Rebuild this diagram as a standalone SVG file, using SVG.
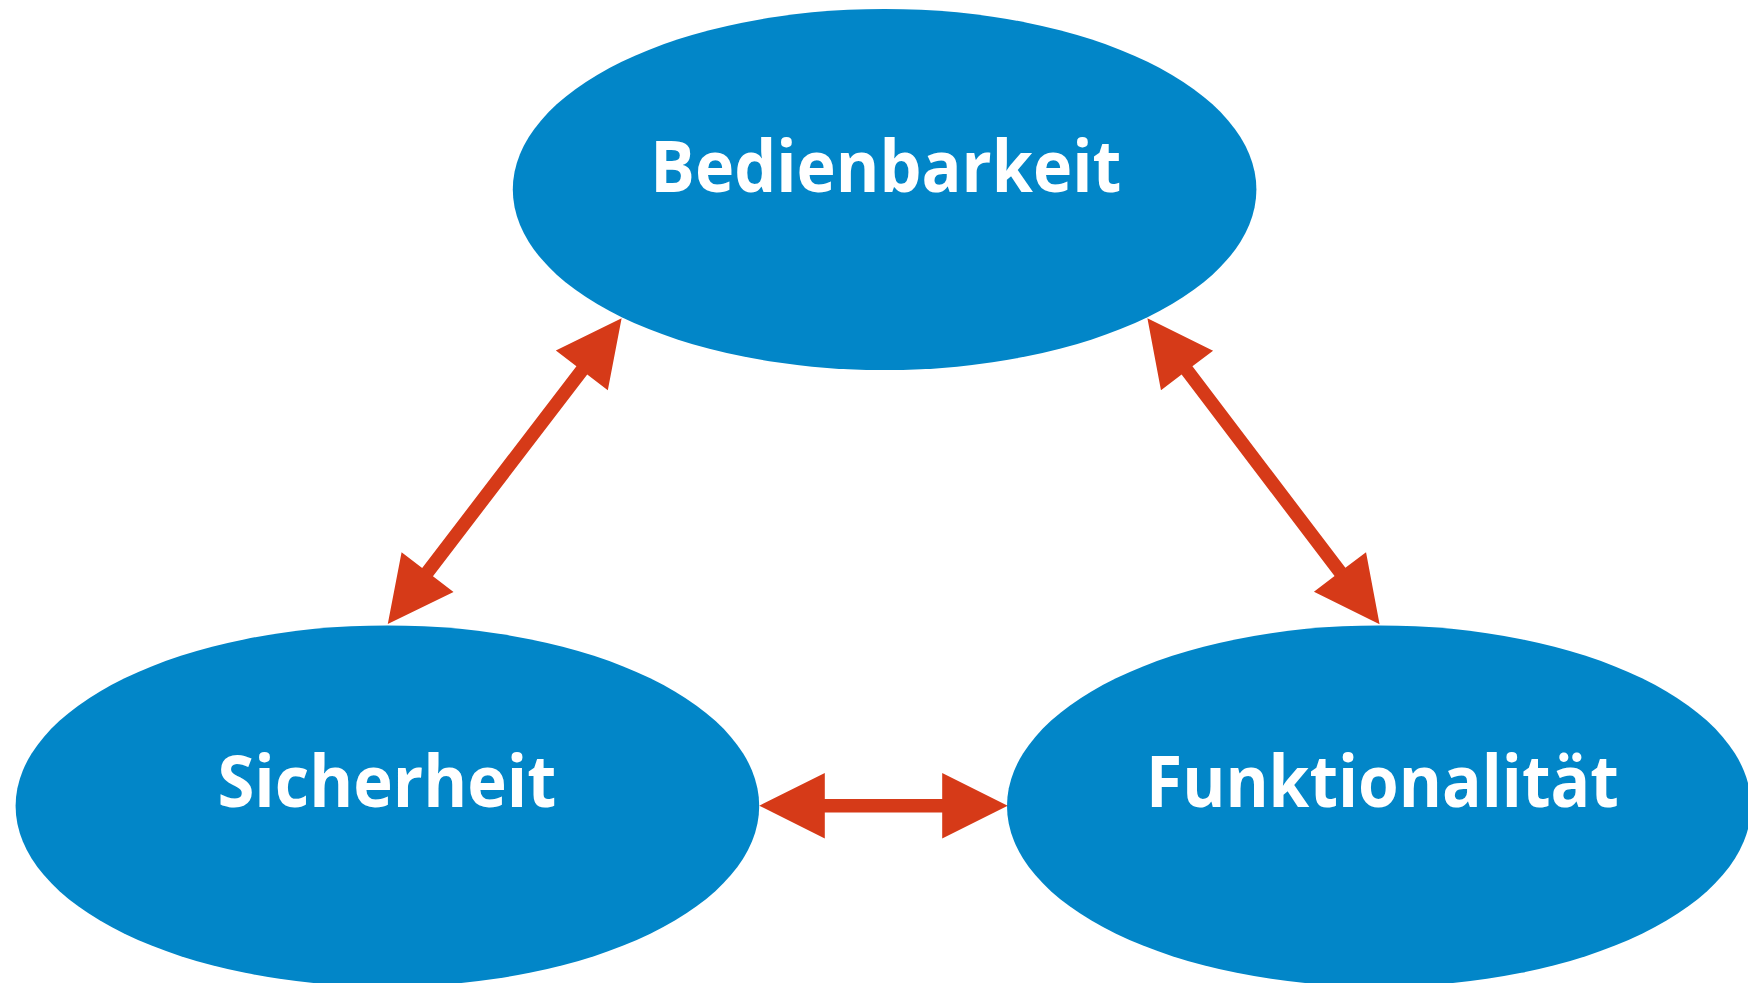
<svg xmlns="http://www.w3.org/2000/svg" width="1748" height="983" viewBox="0 0 1748 983">
  <style>
    .node { fill: #0286c8; }
    .label { fill: #ffffff; font-family: "Open Sans", Lato, "Liberation Sans", sans-serif; font-weight: bold; font-size: 71px; text-anchor: middle; font-variant-ligatures: none; }
    .arrow { fill: #d63a18; }
  </style>
  <rect width="1748" height="983" fill="#ffffff"/>
  <g id="node-bedienbarkeit">
    <ellipse class="node" cx="884.6" cy="189.5" rx="371.8" ry="180.6"/>
    <text class="label" x="885.8" y="191.7" textLength="471" lengthAdjust="spacingAndGlyphs">Bedienbarkeit</text>
  </g>
  <g id="node-sicherheit">
    <ellipse class="node" cx="387.4" cy="806" rx="371.8" ry="180.6"/>
    <text class="label" x="386.9" y="807" textLength="339" lengthAdjust="spacingAndGlyphs">Sicherheit</text>
  </g>
  <g id="node-funktionalitaet">
    <ellipse class="node" cx="1379" cy="806" rx="372" ry="180.6"/>
    <text class="label" x="1382.4" y="807" textLength="472.7" lengthAdjust="spacingAndGlyphs">Funktionalität</text>
  </g>
  <g id="connectors">
    <path class="arrow" transform="translate(504.7 471.2) rotate(-52.6)" d="M-192.5,0 L-127,-32.7 L-127,-6.8 L127,-6.8 L127,-32.7 L192.5,0 L127,32.7 L127,6.8 L-127,6.8 L-127,32.7 Z"/>
    <path class="arrow" transform="translate(1263.5 471.2) rotate(52.8)" d="M-192,0 L-126.5,-32.7 L-126.5,-6.8 L126.5,-6.8 L126.5,-32.7 L192,0 L126.5,32.7 L126.5,6.8 L-126.5,6.8 L-126.5,32.7 Z"/>
    <path class="arrow" transform="translate(883.5 805.7)" d="M-124.2,0 L-58.7,-32.7 L-58.7,-6.8 L58.7,-6.8 L58.7,-32.7 L124.2,0 L58.7,32.7 L58.7,6.8 L-58.7,6.8 L-58.7,32.7 Z"/>
  </g>
</svg>
